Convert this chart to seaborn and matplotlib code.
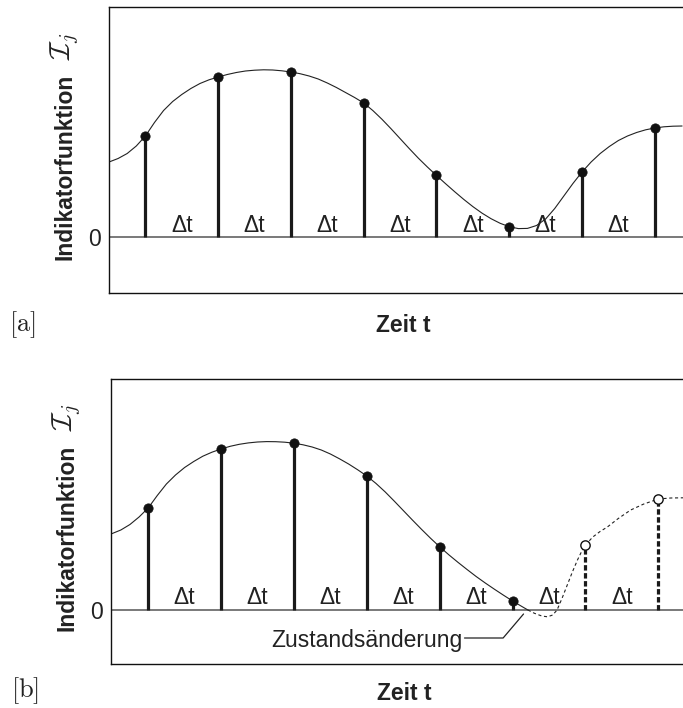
import matplotlib
matplotlib.use("Agg")
import matplotlib.pyplot as plt
import seaborn as sns

sns.set_theme(style="white")
plt.rcParams["font.family"] = ["Liberation Sans", "DejaVu Sans"]
plt.rcParams["mathtext.fontset"] = "cm"

# ---------------- data (t in units of Δt, value in arbitrary units) ----------------
# panel a
stem_t_a = [1, 2, 3, 4, 5, 6, 7, 8]
stem_v_a = [10.1, 16.0, 16.5, 13.4, 6.2, 1.0, 6.5, 10.9]
curve_t_a = [0.5, 0.625, 0.75, 0.875, 1.0, 1.125, 1.25, 1.375, 1.5, 1.625, 1.75, 1.875,
             2.0, 2.125, 2.25, 2.375, 2.5, 2.625, 2.75, 2.875, 3.0, 3.125, 3.25, 3.375,
             3.5, 3.625, 3.75, 3.875, 4.0, 4.125, 4.25, 4.375, 4.5, 4.625, 4.75, 4.875,
             5.0, 5.125, 5.25, 5.375, 5.5, 5.625, 5.75, 5.875, 6.0, 6.125, 6.25, 6.375,
             6.5, 6.625, 6.75, 6.875, 7.0, 7.125, 7.25, 7.375, 7.5, 7.625, 7.75, 7.875,
             8.0, 8.125, 8.25, 8.375]
curve_v_a = [7.5, 7.85, 8.35, 9.1, 10.1, 11.45, 12.65, 13.55, 14.25, 14.85, 15.35, 15.72,
             16.0, 16.25, 16.45, 16.6, 16.68, 16.72, 16.7, 16.62, 16.5, 16.33, 16.1, 15.8,
             15.4, 14.95, 14.45, 13.95, 13.4, 12.65, 11.78, 10.83, 9.84, 8.85, 7.89, 7.0,
             6.15, 5.33, 4.53, 3.76, 3.04, 2.39, 1.83, 1.37, 1.03, 0.84, 0.86, 1.15,
             1.8, 2.85, 4.1, 5.35, 6.5, 7.5, 8.35, 9.05, 9.65, 10.1, 10.45, 10.72,
             10.9, 11.02, 11.08, 11.1]

# panel b
stem_t_b = [1, 2, 3, 4, 5, 6]
stem_v_b = [10.2, 16.1, 16.7, 13.4, 6.3, 0.9]
pred_t_b = [7, 8]
pred_v_b = [6.5, 11.1]
curve_t_b = [0.49, 0.625, 0.75, 0.875, 1.0, 1.125, 1.25, 1.375, 1.5, 1.625, 1.75, 1.875,
             2.0, 2.125, 2.25, 2.375, 2.5, 2.625, 2.75, 2.875, 3.0, 3.125, 3.25, 3.375,
             3.5, 3.625, 3.75, 3.875, 4.0, 4.125, 4.25, 4.375, 4.5, 4.625, 4.75, 4.875,
             5.0, 5.125, 5.25, 5.375, 5.5, 5.625, 5.75, 5.875, 6.0, 6.125, 6.21]
curve_v_b = [7.6, 8.0, 8.55, 9.3, 10.2, 11.45, 12.6, 13.5, 14.25, 14.85, 15.38, 15.78,
             16.1, 16.37, 16.57, 16.71, 16.8, 16.84, 16.83, 16.78, 16.68, 16.52, 16.3, 16.0,
             15.6, 15.12, 14.6, 14.02, 13.4, 12.66, 11.82, 10.9, 9.95, 9.0, 8.07, 7.17,
             6.32, 5.52, 4.77, 4.05, 3.35, 2.7, 2.08, 1.48, 0.9, 0.36, 0.0]
dash_t_b = [6.21, 6.3, 6.4, 6.48, 6.55, 6.61, 6.68, 6.75, 6.82, 6.89, 6.95, 7.0,
            7.1, 7.2, 7.3, 7.45, 7.62, 7.8, 8.0, 8.17, 8.34]
dash_v_b = [0.0, -0.33, -0.6, -0.68, -0.5, 0.0, 1.2, 2.5, 3.8, 5.0, 5.9, 6.5,
            7.3, 7.85, 8.3, 9.15, 10.0, 10.6, 11.1, 11.2, 11.22]

dt_positions = [1.5, 2.5, 3.5, 4.5, 5.5, 6.5, 7.5]
dt_label = "\u0394t"
xlabel = "Zeit t"
ylabel = "Indikatorfunktion"
annot_text = "Zustandsänderung"

FS = 16.5

fig = plt.figure(figsize=(6.83, 7.08), dpi=100)
W, H = 683, 708


def px_axes(l, r, t, b):
    return fig.add_axes([l / W, (H - b) / H, (r - l) / W, (b - t) / H])


ax_a = px_axes(109, 697, 7, 293)
ax_b = px_axes(111, 697, 379, 664)


def style_axes(ax, xlim, ylim, tag, xlab_y, tag_y):
    ax.set_xlim(*xlim)
    ax.set_ylim(*ylim)
    ax.set_xticks([])
    ax.set_yticks([0])
    ax.set_yticklabels(["0"], fontsize=FS)
    ax.tick_params(axis="y", length=0, pad=5.5, colors="#222222")
    for side in ["left", "top", "bottom"]:
        ax.spines[side].set_visible(True)
        ax.spines[side].set_color("#111111")
        ax.spines[side].set_linewidth(1.0)
    ax.spines["right"].set_visible(False)
    ax.set_xlabel("")
    ax.set_ylabel("")
    ax.axhline(0, color="#555555", lw=1.1, zorder=1)
    ax.text(-0.0755, 0.442, ylabel, transform=ax.transAxes, rotation=90,
            ha="center", va="center", fontsize=FS, fontweight="bold", color="#222222")
    ax.text(-0.075, 0.865, r"$\mathcal{I}_j$", transform=ax.transAxes, rotation=90,
            ha="center", va="center", fontsize=21, color="#222222")
    ax.text(0.5, xlab_y, xlabel, transform=ax.transAxes, ha="center", va="center",
            fontsize=FS, fontweight="bold", color="#222222")
    ax.text(-0.147, tag_y, tag, transform=ax.transAxes, ha="center", va="center",
            fontsize=19, color="#222222")


# ---------------- panel a ----------------
style_axes(ax_a, (0.5, 8.58), (-5.6, 23.0), r"$[\mathrm{a}]$", -0.115, -0.11)
sns.lineplot(x=curve_t_a, y=curve_v_a, ax=ax_a, color="#222222", lw=0.8, sort=False,
             estimator=None, zorder=2)
ax_a.vlines(stem_t_a, 0, stem_v_a, color="#1a1a1a", lw=2.3, zorder=3)
sns.scatterplot(x=stem_t_a, y=stem_v_a, ax=ax_a, color="#111111", s=45, edgecolor="#111111",
                linewidth=0.5, zorder=4)
for p in dt_positions:
    ax_a.text(p, 0.5, dt_label, ha="center", va="baseline", fontsize=FS, color="#222222")

# ---------------- panel b ----------------
style_axes(ax_b, (0.49, 8.53), (-5.4, 23.1), r"$[\mathrm{b}]$", -0.105, -0.095)
sns.lineplot(x=curve_t_b, y=curve_v_b, ax=ax_b, color="#222222", lw=0.8, sort=False,
             estimator=None, zorder=2)
sns.lineplot(x=dash_t_b, y=dash_v_b, ax=ax_b, color="#222222", lw=0.8, sort=False,
             estimator=None, zorder=2, linestyle=(0, (2.8, 2.4)))
ax_b.vlines(stem_t_b, 0, stem_v_b, color="#1a1a1a", lw=2.3, zorder=3)
ax_b.vlines(pred_t_b, 0, pred_v_b, color="#1a1a1a", lw=2.3, zorder=3,
            linestyles=[(0, (1.7, 0.8))])
sns.scatterplot(x=stem_t_b, y=stem_v_b, ax=ax_b, color="#111111", s=45, edgecolor="#111111",
                linewidth=0.5, zorder=4)
sns.scatterplot(x=pred_t_b, y=pred_v_b, ax=ax_b, color="white", s=45, edgecolor="#111111",
                linewidth=1.0, zorder=4)
for p in dt_positions:
    ax_b.text(p, 0.6, dt_label, ha="center", va="baseline", fontsize=FS, color="#222222")

# annotation "Zustandsänderung" with leader line
ax_b.plot([5.34, 5.87, 6.15], [-2.8, -2.8, -0.4], color="#222222", lw=0.9, zorder=2)
ax_b.text(5.31, -2.8, annot_text, ha="right", va="center_baseline", fontsize=FS,
          color="#222222")

fig.savefig("out.png", dpi=100)
